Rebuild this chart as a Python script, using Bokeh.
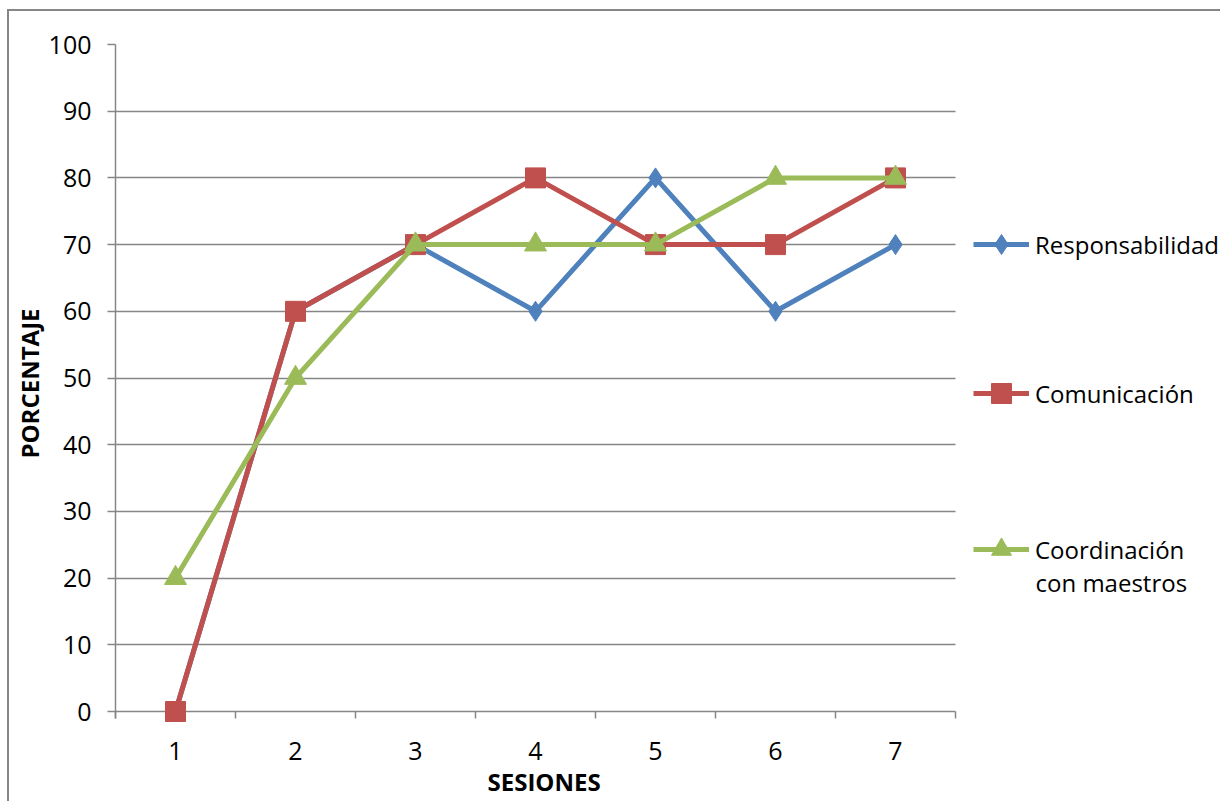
from bokeh.plotting import figure
from bokeh.models import FixedTicker, Legend, LegendItem, Label, Title
from bokeh.embed import file_html
from bokeh.resources import INLINE

sesiones = [1, 2, 3, 4, 5, 6, 7]
sesion_labels = ["1", "2", "3", "4", "5", "6", "7"]
responsabilidad = [0, 60, 70, 60, 80, 60, 70]
comunicacion = [0, 60, 70, 80, 70, 70, 80]
coordinacion = [20, 50, 70, 70, 70, 80, 80]
y_ticks = [0, 10, 20, 30, 40, 50, 60, 70, 80, 90, 100]
boundaries = [0.5, 1.5, 2.5, 3.5, 4.5, 5.5, 6.5, 7.5]

FONT = "Open Sans"
GRAY = "#868686"

W, H = 1213, 792
LEFT, TOP = 106, 33
PX_PER_SESSION = 120
PX_PER_PCT = 6.67
PAD_PX = 11                       # room below 0 so markers at 0 are not clipped
y_pad = PAD_PX / PX_PER_PCT
frame_h = (100 + y_pad) * PX_PER_PCT
BOTTOM = int(round(H - TOP - frame_h))
x_end = 0.5 + (W - LEFT) / PX_PER_SESSION

p = figure(width=W, height=H, x_range=(0.5, x_end), y_range=(-y_pad, 100),
           output_backend="svg", toolbar_location=None,
           min_border_left=LEFT, min_border_right=0,
           min_border_top=TOP, min_border_bottom=BOTTOM)
p.styles = {"margin-left": "7px", "margin-top": "9px",
            "border-left": "2px solid #868686", "border-top": "2px solid #868686"}
p.outline_line_color = None
p.background_fill_color = "white"
p.border_fill_color = "white"

# x axis (only over the sessions); the visible base line is the 0 gridline
p.xaxis.bounds = (0.5, 7.5)
p.xaxis.ticker = FixedTicker(ticks=sesiones, minor_ticks=boundaries)
p.xaxis.major_label_overrides = {s: l for s, l in zip(sesiones, sesion_labels)}
p.xaxis.major_tick_line_color = None
p.xaxis.major_tick_out = 0
p.xaxis.major_tick_in = 0
p.xaxis.minor_tick_in = PAD_PX
p.xaxis.minor_tick_out = -4
p.xaxis.minor_tick_line_color = GRAY
p.xaxis.minor_tick_line_width = 1.5
p.xaxis.axis_line_color = None
p.xaxis.major_label_standoff = 19
p.xgrid.grid_line_color = None

# y axis
p.yaxis.bounds = (-1.05, 100)
p.yaxis.ticker = FixedTicker(ticks=y_ticks, minor_ticks=[])
p.yaxis.major_tick_out = 8
p.yaxis.major_tick_in = 0
p.yaxis.major_tick_line_color = GRAY
p.yaxis.major_tick_line_width = 1.5
p.yaxis.minor_tick_line_color = None
p.yaxis.axis_line_color = GRAY
p.yaxis.axis_line_width = 1.5
p.yaxis.major_label_standoff = 16

# horizontal gridlines limited to the sessions area
use_cross = False
try:
    p.ygrid[0].cross_bounds = (0.5, 7.5)
    use_cross = True
except Exception:
    use_cross = False
if use_cross:
    p.ygrid.grid_line_color = GRAY
    p.ygrid.grid_line_width = 1.5
else:
    p.ygrid.grid_line_color = None
    p.segment(x0=[0.5] * len(y_ticks), x1=[7.5] * len(y_ticks), y0=y_ticks, y1=y_ticks,
              line_color=GRAY, line_width=1.5)

for ax in (p.xaxis, p.yaxis):
    ax.major_label_text_font = FONT
    ax.major_label_text_font_size = "25px"
    ax.major_label_text_color = "black"

# axis titles
p.add_layout(Title(text="SESIONES", align="left", offset=372, standoff=0,
                   text_font=FONT, text_font_size="24px", text_font_style="bold",
                   text_color="black"), "below")
p.add_layout(Title(text="PORCENTAJE", align="center", offset=-5, standoff=0,
                   text_font=FONT, text_font_size="24px", text_font_style="bold",
                   text_color="black"), "left")

BLUE = "#4F81BD"
RED = "#C0504D"
GREEN = "#9BBB59"

l1 = p.line(sesiones, responsabilidad, line_color=BLUE, line_width=5)
m1 = p.scatter(sesiones, responsabilidad, marker="diamond", size=20,
               fill_color=BLUE, line_color=BLUE)
l2 = p.line(sesiones, comunicacion, line_color=RED, line_width=5)
m2 = p.scatter(sesiones, comunicacion, marker="square", size=20,
               fill_color=RED, line_color=RED)
l3 = p.line(sesiones, coordinacion, line_color=GREEN, line_width=5)
m3 = p.scatter(sesiones, coordinacion, marker="triangle", size=22,
               fill_color=GREEN, line_color=GREEN)

# legend entries: (label, renderers, centre y of entry in px above the 0 line)
entries = [("Responsabilidad", [l1, m1], 467),
           ("Comunicación", [l2, m2], 318),
           ("Coordinación", [l3, m3], 162)]
for label, rends, cy in entries:
    lg = Legend(items=[LegendItem(label=label, renderers=rends)],
                location=(858, cy + PAD_PX - 25))
    lg.glyph_width = 56
    lg.glyph_height = 50
    lg.label_standoff = 6
    lg.padding = 0
    lg.margin = 0
    lg.border_line_color = None
    lg.background_fill_alpha = 0
    lg.label_text_font = FONT
    lg.label_text_font_size = "24px"
    lg.label_text_color = "black"
    p.add_layout(lg)

p.add_layout(Label(x=920, y=129 + PAD_PX, x_units="screen", y_units="screen",
                   text="con maestros", text_font=FONT, text_font_size="24px",
                   text_color="black", text_baseline="middle", text_align="left"))

open("out.html", "w").write(file_html(p, INLINE))
